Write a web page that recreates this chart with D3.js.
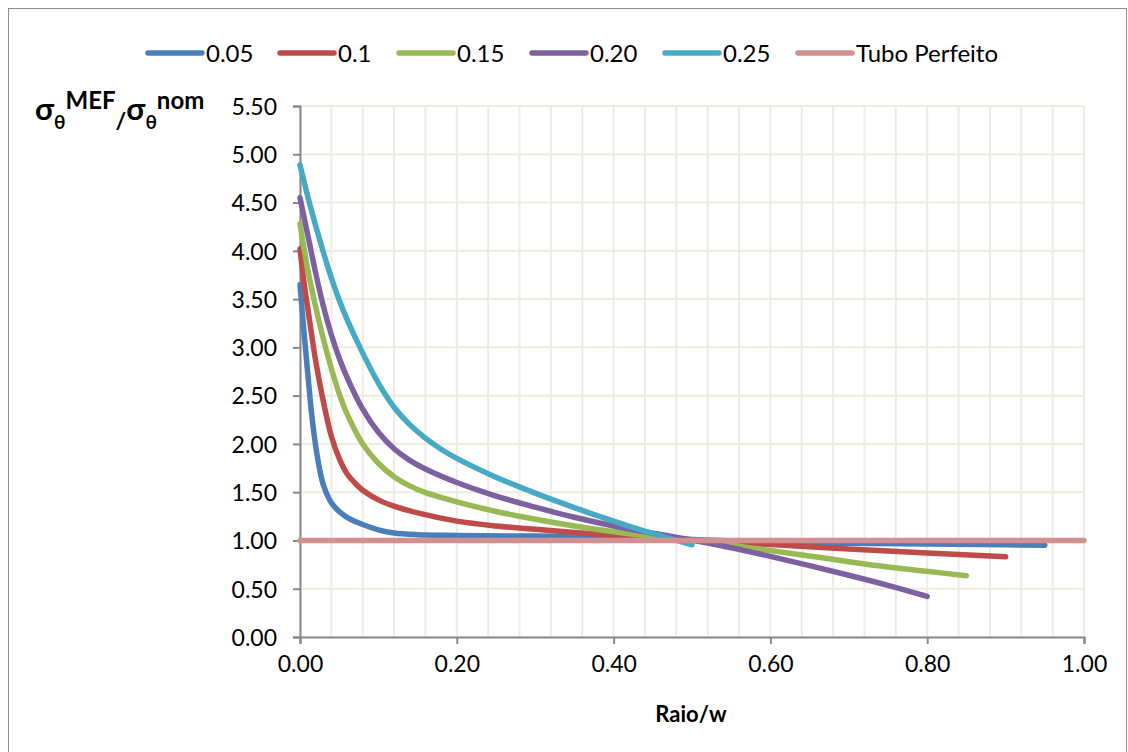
<!DOCTYPE html>
<html><head><meta charset="utf-8">
<script src="https://cdn.jsdelivr.net/npm/d3@7"></script>
<style>
html,body{margin:0;padding:0;background:#fff;}
text{font-family:Lato,"Open Sans","DejaVu Sans",sans-serif;}
</style></head>
<body>
<svg id="chart" width="1128" height="752"></svg>
<script>
// ---- data ----
const seriesNames = ["0.05", "0.1", "0.15", "0.20", "0.25", "Tubo Perfeito"];
const seriesColors = ["#4A7EBB", "#BE4B48", "#98B954", "#7D60A0", "#46AAC5", "#D39090"];

const s005 = [[0,3.65],[0.005,3.17],[0.01,2.72],[0.015,2.30],[0.02,1.98],[0.025,1.74],[0.03,1.57],[0.04,1.39],[0.05,1.30],[0.06,1.24],[0.08,1.165],[0.10,1.11],[0.12,1.077],[0.15,1.06],[0.20,1.052],[0.30,1.045],[0.40,1.035],[0.50,1.01],[0.60,0.982],[0.70,0.97],[0.80,0.962],[0.90,0.955],[0.95,0.95]];
const s010 = [[0,4.02],[0.005,3.68],[0.01,3.40],[0.02,2.86],[0.03,2.43],[0.04,2.08],[0.05,1.85],[0.06,1.69],[0.07,1.595],[0.08,1.52],[0.10,1.42],[0.12,1.355],[0.15,1.285],[0.20,1.20],[0.25,1.15],[0.30,1.115],[0.35,1.083],[0.40,1.055],[0.45,1.03],[0.50,1.005],[0.60,0.957],[0.70,0.912],[0.80,0.87],[0.90,0.83]];
const s015 = [[0,4.28],[0.01,3.80],[0.02,3.42],[0.03,3.08],[0.04,2.78],[0.05,2.52],[0.06,2.31],[0.08,2.00],[0.10,1.80],[0.12,1.66],[0.14,1.565],[0.16,1.495],[0.20,1.40],[0.25,1.30],[0.30,1.22],[0.35,1.15],[0.40,1.09],[0.45,1.04],[0.50,1.00],[0.55,0.95],[0.60,0.895],[0.65,0.84],[0.70,0.78],[0.75,0.725],[0.80,0.68],[0.85,0.635]];
const s020 = [[0,4.55],[0.01,4.16],[0.02,3.77],[0.03,3.42],[0.04,3.13],[0.05,2.89],[0.06,2.69],[0.08,2.36],[0.10,2.12],[0.12,1.95],[0.14,1.83],[0.16,1.74],[0.20,1.60],[0.25,1.46],[0.30,1.345],[0.35,1.24],[0.40,1.15],[0.45,1.075],[0.50,1.005],[0.55,0.925],[0.60,0.835],[0.65,0.74],[0.70,0.64],[0.75,0.535],[0.80,0.42]];
const s025 = [[0,4.89],[0.01,4.56],[0.02,4.26],[0.03,3.98],[0.04,3.72],[0.05,3.49],[0.06,3.29],[0.08,2.94],[0.10,2.63],[0.12,2.38],[0.14,2.20],[0.16,2.06],[0.18,1.945],[0.20,1.85],[0.25,1.655],[0.30,1.49],[0.35,1.34],[0.40,1.20],[0.45,1.07],[0.50,0.955]];
const sTubo = [[0,1.0],[1.0,1.0]];
const seriesData = [s005, s010, s015, s020, s025, sTubo];

const xTicks = [0, 0.2, 0.4, 0.6, 0.8, 1.0];
const yTicks = [0, 0.5, 1.0, 1.5, 2.0, 2.5, 3.0, 3.5, 4.0, 4.5, 5.0, 5.5];
const xMinorStep = 0.04;

// ---- drawing ----
const svg = d3.select("#chart");
const x = d3.scaleLinear().domain([0, 1]).range([300, 1084]);
const y = d3.scaleLinear().domain([0, 5.5]).range([637, 106]);

// chart border
svg.append("rect").attr("x", 8.5).attr("y", 8.5).attr("width", 1118).attr("height", 780)
  .attr("fill", "none").attr("stroke", "#8c8c8c").attr("stroke-width", 1);

// gridlines
const grid = svg.append("g");
const minor = d3.range(0, 1 + 1e-9, xMinorStep);
grid.selectAll("line.v").data(minor).join("line")
  .attr("x1", d => x(d)).attr("x2", d => x(d)).attr("y1", y(5.5)).attr("y2", y(0))
  .attr("stroke", "#EEECE1").attr("stroke-width", 2);
grid.selectAll("line.h").data(yTicks).join("line")
  .attr("x1", x(0)).attr("x2", x(1)).attr("y1", d => y(d)).attr("y2", d => y(d))
  .attr("stroke", "#EEECE1").attr("stroke-width", 2);

// axes
const axisColor = "#878787";
const yAxis = svg.append("g").attr("transform", `translate(${x(0)},0)`)
  .call(d3.axisLeft(y).tickValues(yTicks).tickFormat(d3.format(".2f")).tickSize(7).tickPadding(16));
const xAxis = svg.append("g").attr("transform", `translate(0,${y(0)})`)
  .call(d3.axisBottom(x).tickValues(xTicks).tickFormat(d3.format(".2f")).tickSize(7).tickPadding(20));
[xAxis, yAxis].forEach(a => {
  a.select(".domain").attr("stroke", axisColor).attr("stroke-width", 2);
  a.selectAll(".tick line").attr("stroke", axisColor).attr("stroke-width", 2);
  a.selectAll(".tick text").attr("fill", "#000").style("font-size", "23px")
    .style("font-family", "Lato, 'Open Sans', sans-serif");
});
yAxis.selectAll(".tick text").attr("dy", "0.36em");
xAxis.selectAll(".tick text").attr("dy", "0.36em");

// series lines
const line = d3.line().x(d => x(d[0])).y(d => y(d[1])).curve(d3.curveCatmullRom.alpha(0.5));
svg.append("g").selectAll("path").data(seriesData).join("path")
  .attr("d", line).attr("fill", "none")
  .attr("stroke", (d, i) => seriesColors[i])
  .attr("stroke-width", 5.5).attr("stroke-linecap", "round").attr("stroke-linejoin", "round");

// legend
const legendX = [148, 280, 399, 532, 665, 798];
const lg = svg.append("g");
seriesNames.forEach((n, i) => {
  const g = lg.append("g").attr("transform", `translate(${legendX[i]},53)`);
  g.append("line").attr("x1", 0).attr("x2", 54).attr("y1", 0).attr("y2", 0)
    .attr("stroke", seriesColors[i]).attr("stroke-width", 5.5).attr("stroke-linecap", "round");
  g.append("text").attr("x", 58).attr("y", 0).attr("dy", "0.36em")
    .style("font-size", "24px").attr("fill", "#000").text(n);
});

// x axis title
svg.append("text").attr("x", 691).attr("y", 722).attr("text-anchor", "middle")
  .style("font-size", "22px").style("font-weight", "bold").text("Raio/w");

// y axis title
const yt = svg.append("text").attr("x", 35).attr("y", 120).style("font-weight", "bold").attr("fill", "#000");
yt.append("tspan").style("font-size", "31px").text("σ");
yt.append("tspan").style("font-size", "19px").attr("dy", 9).text("θ");
yt.append("tspan").style("font-size", "24px").attr("dy", -20).text("MEF");
yt.append("tspan").style("font-size", "23px").attr("dy", 20).text("/");
yt.append("tspan").style("font-size", "31px").attr("dy", -9).text("σ");
yt.append("tspan").style("font-size", "19px").attr("dy", 9).text("θ");
yt.append("tspan").style("font-size", "24px").attr("dy", -20).text("nom");
</script>
</body></html>
